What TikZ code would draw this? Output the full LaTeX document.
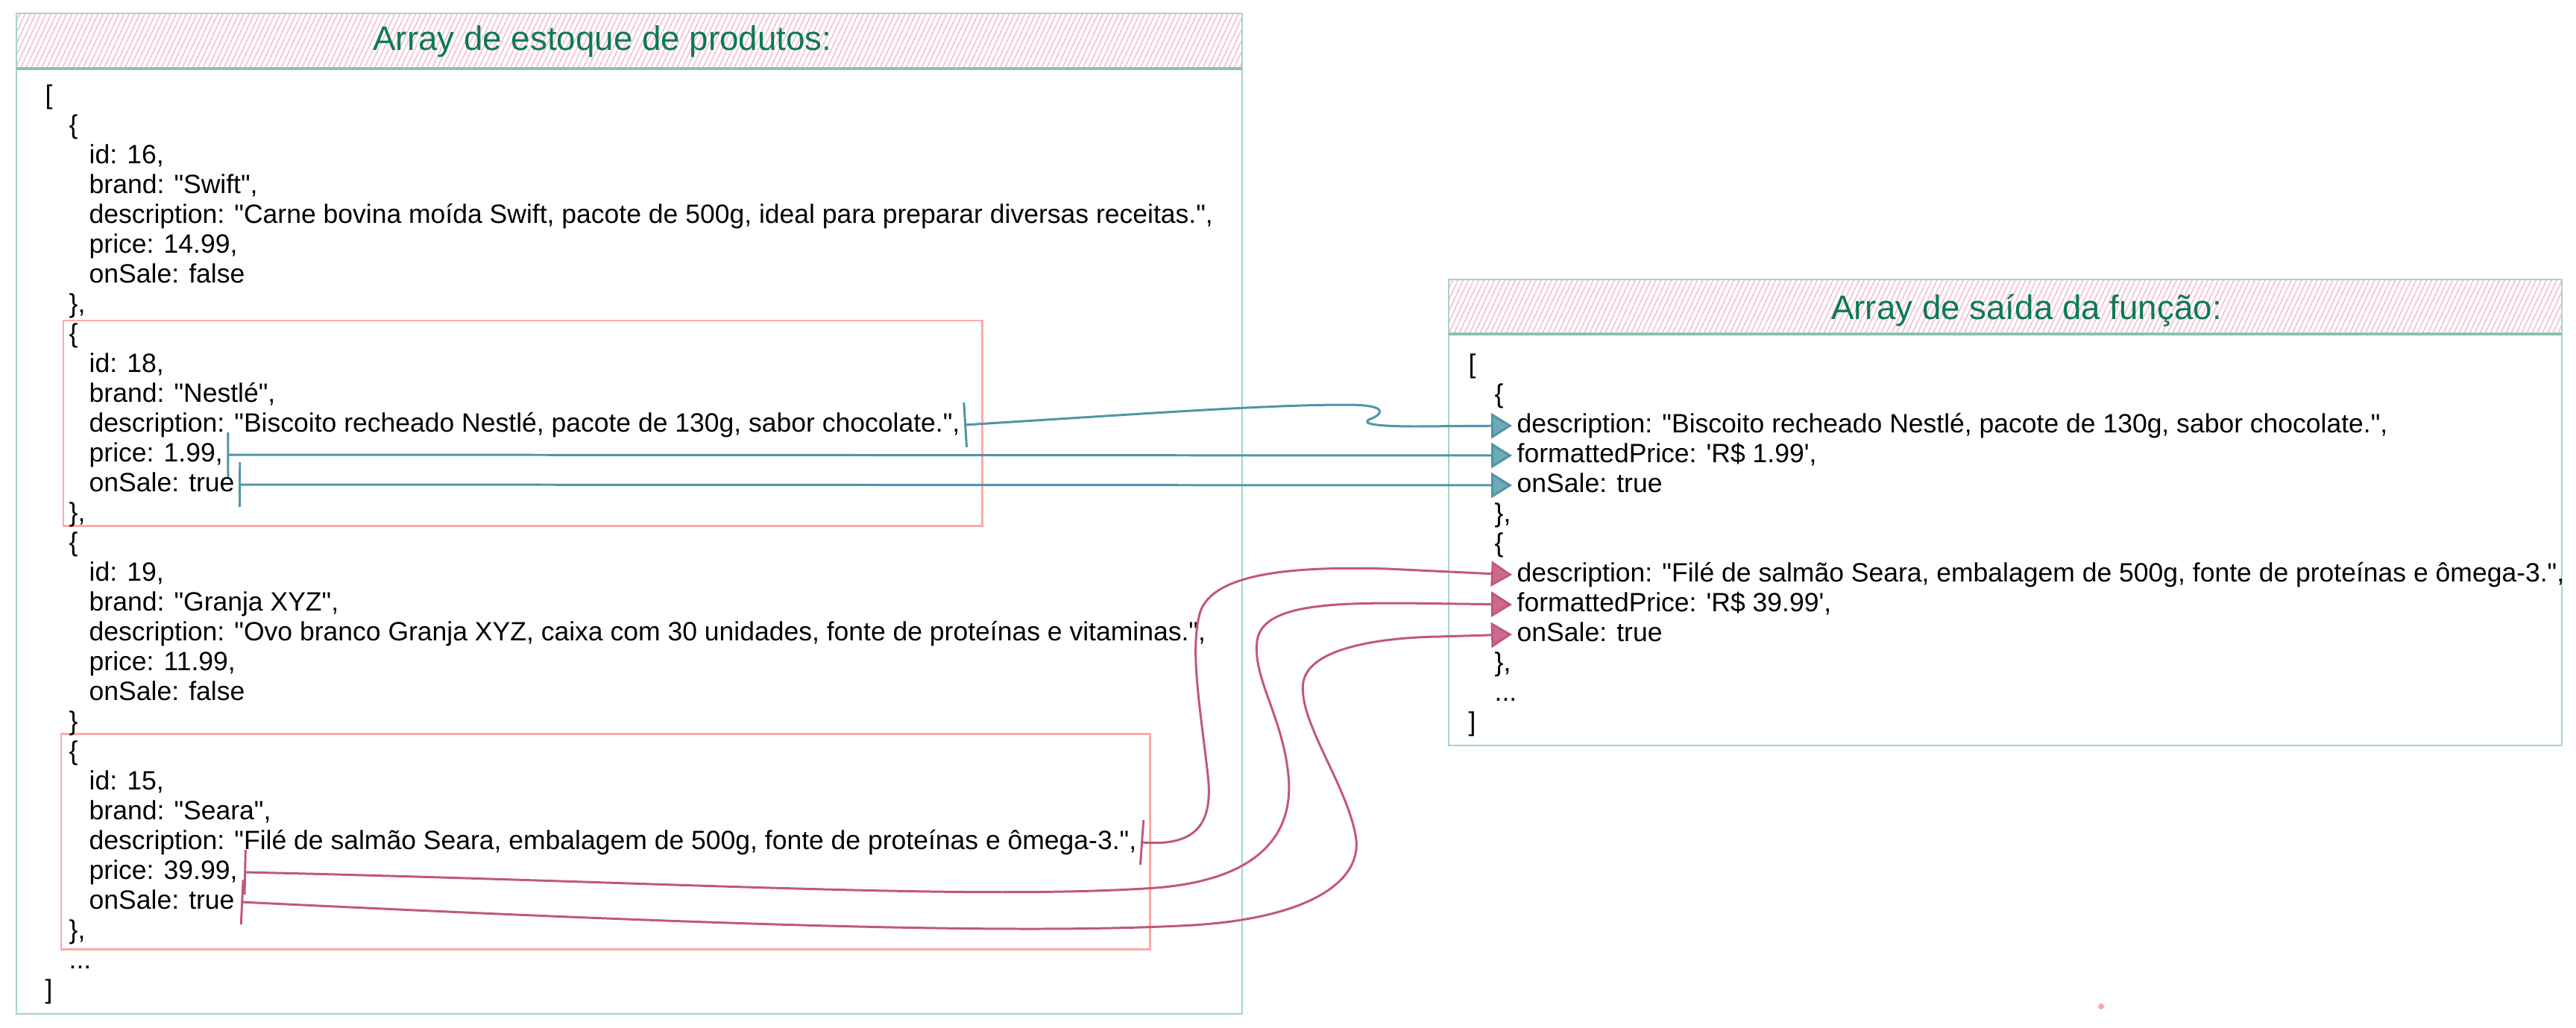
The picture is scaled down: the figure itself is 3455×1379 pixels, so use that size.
\documentclass[tikz,border=0pt]{standalone}
\usepackage{fontspec}
\setmainfont{Liberation Sans}
\usetikzlibrary{arrows.meta,patterns.meta}
\newcommand{\dq}{\textquotedbl}
\newcommand{\sq}{\textquotesingle}
\definecolor{cFrame}{HTML}{A5D6C4}
\definecolor{cFrameDark}{HTML}{88C4AE}
\definecolor{cTitle}{HTML}{0B7A55}
\definecolor{cHatch}{HTML}{F5B8CA}
\definecolor{cPick}{HTML}{FFA8A8}
\definecolor{cBlue}{HTML}{5096A6}
\definecolor{cBlueFill}{HTML}{6EAAB8}
\definecolor{cPink}{HTML}{C2577F}
\definecolor{cPinkFill}{HTML}{CA6A8E}
\tikzset{
  ln/.style={anchor=west,inner sep=0pt,font=\fontsize{10.1}{12}\selectfont,text height=7.4pt,text depth=2.1pt},
  ttl/.style={inner sep=0pt,font=\fontsize{13}{16}\selectfont,text=cTitle},
  band/.style={pattern={Lines[angle=65,distance=1.8pt,line width=0.4pt]},pattern color=cHatch},
  frame/.style={draw=cFrame,line width=0.7pt},
  pick/.style={draw=cPick,line width=0.85pt},
  bluearrow/.style={draw=cBlue,line width=0.85pt,arrows={Bar[width=0.6cm]-Triangle[length=0.28cm,width=0.34cm,fill=cBlueFill]}},
  pinkarrow/.style={draw=cPink,line width=0.85pt,arrows={Bar[width=0.6cm]-Triangle[length=0.28cm,width=0.34cm,fill=cPinkFill]}}
}
\begin{document}
\begin{tikzpicture}[x=0.01cm,y=-0.01cm]
\useasboundingbox (0,0) rectangle (3455,1379);
\fill[band] (22,18) rectangle (1666,92);
\draw[frame] (22,18) rectangle (1666,1360);
\draw[cFrameDark,line width=1.1pt] (22,92) -- (1666,92);
\node[ttl] (tin) at (808,56) {Array de estoque de produtos:};
\fill[band] (1943,375) rectangle (3436,448);
\draw[frame] (1943,375) rectangle (3436,1000);
\draw[cFrameDark,line width=1.1pt] (1943,448) -- (3436,448);
\node[ttl] (tout) at (2718,417) {Array de saída da função:};
\draw[pick] (85,430) rectangle (1317,705);
\draw[pick] (82,984) rectangle (1542,1273);
\foreach \k/\x/\t in {0/60/{[},1/92/{\{},2/119/{id: 16,},3/119/{brand: \dq Swift\dq,},
  4/119/{description: \dq Carne bovina moída Swift, pacote de 500g, ideal para preparar diversas receitas.\dq,},
  5/119/{price: 14.99,},6/119/{onSale: false},7/92/{\},},8/92/{\{},9/119/{id: 18,},10/119/{brand: \dq Nestlé\dq,},
  11/119/{description: \dq Biscoito recheado Nestlé, pacote de 130g, sabor chocolate.\dq,},
  12/119/{price: 1.99,},13/119/{onSale: true},14/92/{\},},15/92/{\{},16/119/{id: 19,},17/119/{brand: \dq Granja XYZ\dq,},
  18/119/{description: \dq Ovo branco Granja XYZ, caixa com 30 unidades, fonte de proteínas e vitaminas.\dq,},
  19/119/{price: 11.99,},20/119/{onSale: false},21/92/{\}},22/92/{\{},23/119/{id: 15,},24/119/{brand: \dq Seara\dq,},
  25/119/{description: \dq Filé de salmão Seara, embalagem de 500g, fonte de proteínas e ômega-3.\dq,},
  26/119/{price: 39.99,},27/119/{onSale: true},28/92/{\},},29/92/{...},30/60/{]}}
  \node[ln] (l\k) at (\x,{130+40*\k}) {\t};
\foreach \k/\x/\t in {0/1969/{[},1/2004/{\{},
  2/2034/{description: \dq Biscoito recheado Nestlé, pacote de 130g, sabor chocolate.\dq,},
  3/2034/{formattedPrice: \sq R\$ 1.99\sq,},4/2034/{onSale: true},5/2004/{\},},6/2004/{\{},
  7/2034/{description: \dq Filé de salmão Seara, embalagem de 500g, fonte de proteínas e ômega-3.\dq,},
  8/2034/{formattedPrice: \sq R\$ 39.99\sq,},9/2034/{onSale: true},10/2004/{\},},
  11/2004/{...},12/1969/{]}}
  \node[ln] (r\k) at (\x,{491+40*\k}) {\t};
\draw[bluearrow] ([xshift=0.05cm]l11.east) .. controls (1550,554) and (1700,543) .. (1806,543)
  .. controls (1870,543) and (1850,558) .. (1838,562) .. controls (1822,569) and (1850,572) .. (1900,572) -- ([xshift=-0.06cm]r2.west);
\draw[bluearrow] ([xshift=0.05cm]l12.east) -- ([xshift=-0.06cm]r3.west);
\draw[bluearrow] ([xshift=0.05cm]l13.east) -- ([xshift=-0.06cm]r4.west);
\draw[pinkarrow] ([xshift=0.05cm]l25.east) .. controls (1600,1135) and (1628,1110) .. (1620,1040)
  .. controls (1610,950) and (1595,870) .. (1610,820) .. controls (1630,765) and (1750,760) .. (1860,763) -- ([xshift=-0.06cm]r7.west);
\draw[pinkarrow] ([xshift=0.08cm]l26.east) .. controls (900,1183) and (1300,1208) .. (1550,1191)
  .. controls (1700,1179) and (1735,1110) .. (1728,1040) .. controls (1720,960) and (1680,910) .. (1686,860)
  .. controls (1692,812) and (1780,809) .. (1880,809) -- ([xshift=-0.06cm]r8.west);
\draw[pinkarrow] ([xshift=0.08cm]l27.east) .. controls (900,1238) and (1350,1255) .. (1600,1241)
  .. controls (1760,1231) and (1830,1180) .. (1818,1120) .. controls (1805,1050) and (1740,965) .. (1748,915)
  .. controls (1756,867) and (1860,855) .. (1930,854) -- ([xshift=-0.06cm]r9.west);
\fill[cPick] (2818,1350) circle (0.04cm);
\end{tikzpicture}
\end{document}
